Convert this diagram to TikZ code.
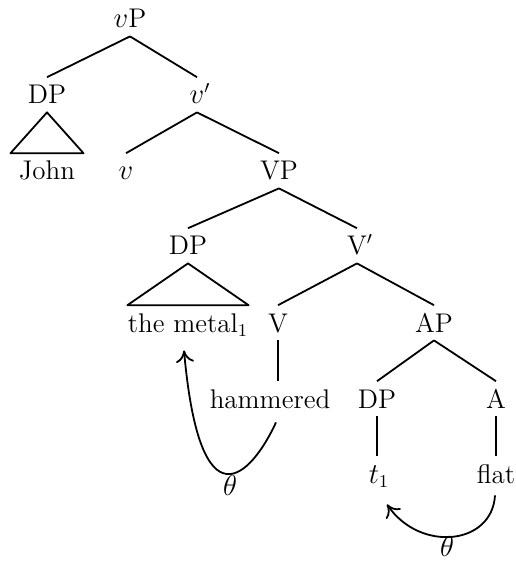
\documentclass[tikz,border=0pt]{standalone}
\usetikzlibrary{arrows.meta}
\tikzset{
  lbl/.style={anchor=base, inner sep=4pt, text height=9.2pt, text depth=0pt},
  branch/.style={line width=0.9pt, line join=round},
  movearrow/.style={line width=0.9pt, -{To[length=6pt,width=9pt]}},
}
\begin{document}
\begin{tikzpicture}[x=0.5pt, y=-0.5pt, font=\fontsize{13.5}{16}\selectfont]
\useasboundingbox (0,0) rectangle (515,566);

% tree labels
\node[lbl] (vP)       at (130,28)  {$v$P};
\node[lbl] (DPa)      at (47,104)  {DP};
\node[lbl] (vbar)     at (197,104) {$v$\rlap{$'$}};
\node[lbl] (John)     at (47,180)  {John};
\node[lbl] (vhead)    at (126,180) {$v$};
\node[lbl] (VP)       at (279,180) {VP};
\node[lbl] (DPb)      at (188,255) {DP};
\node[lbl] (Vbar)     at (357,255) {V\rlap{$'$}};
\node[lbl] (metal)    at (188,332) {the metal$_1$};
\node[lbl] (V)        at (278,332) {V};
\node[lbl] (AP)       at (434,332) {AP};
\node[lbl] (hammered) at (270,408) {hammered};
\node[lbl] (DPc)      at (377,408) {DP};
\node[lbl] (A)        at (496,408) {A};
\node[lbl] (trace)    at (379,483) {$t_1$};
\node[lbl] (flat)     at (496,483) {flat};
\node[lbl] (thA)      at (230,495) {$\theta$};
\node[lbl] (thB)      at (447,556) {$\theta$};

% branches
\draw[branch] (vP.south) -- (DPa.north);
\draw[branch] (vP.south) -- (vbar.north);
\draw[branch] (vbar.south) -- (vhead.north);
\draw[branch] (vbar.south) -- (VP.north);
\draw[branch] (VP.south) -- (DPb.north);
\draw[branch] (VP.south) -- (Vbar.north);
\draw[branch] (Vbar.south) -- (V.north);
\draw[branch] (Vbar.south) -- (AP.north);
\draw[branch] (AP.south) -- (DPc.north);
\draw[branch] (AP.south) -- (A.north);
\draw[branch] (V.south) -- (V.south |- hammered.north);
\draw[branch] (DPc.south) -- (DPc.south |- trace.north);
\draw[branch] (A.south) -- (A.south |- flat.north);

% roofs over unanalysed phrases
\draw[branch] (DPa.south) -- (John.north west) -- (John.north east) -- cycle;
\draw[branch] (DPb.south) -- ([xshift=4pt]metal.north west)
                          -- ([xshift=-4pt]metal.north east) -- cycle;

% theta-role assignment
\draw[movearrow] ([xshift=3pt,yshift=-3pt]hammered.south)
  .. controls +(-25,54) and +(16,179) .. ([xshift=-2pt,yshift=-5pt]metal.south);
\draw[movearrow] ([xshift=-0.5pt,yshift=-2pt]flat.south)
  .. controls +(-3,50) and +(33,48) .. ([xshift=4pt,yshift=-6.5pt]trace.south);
\end{tikzpicture}
\end{document}
